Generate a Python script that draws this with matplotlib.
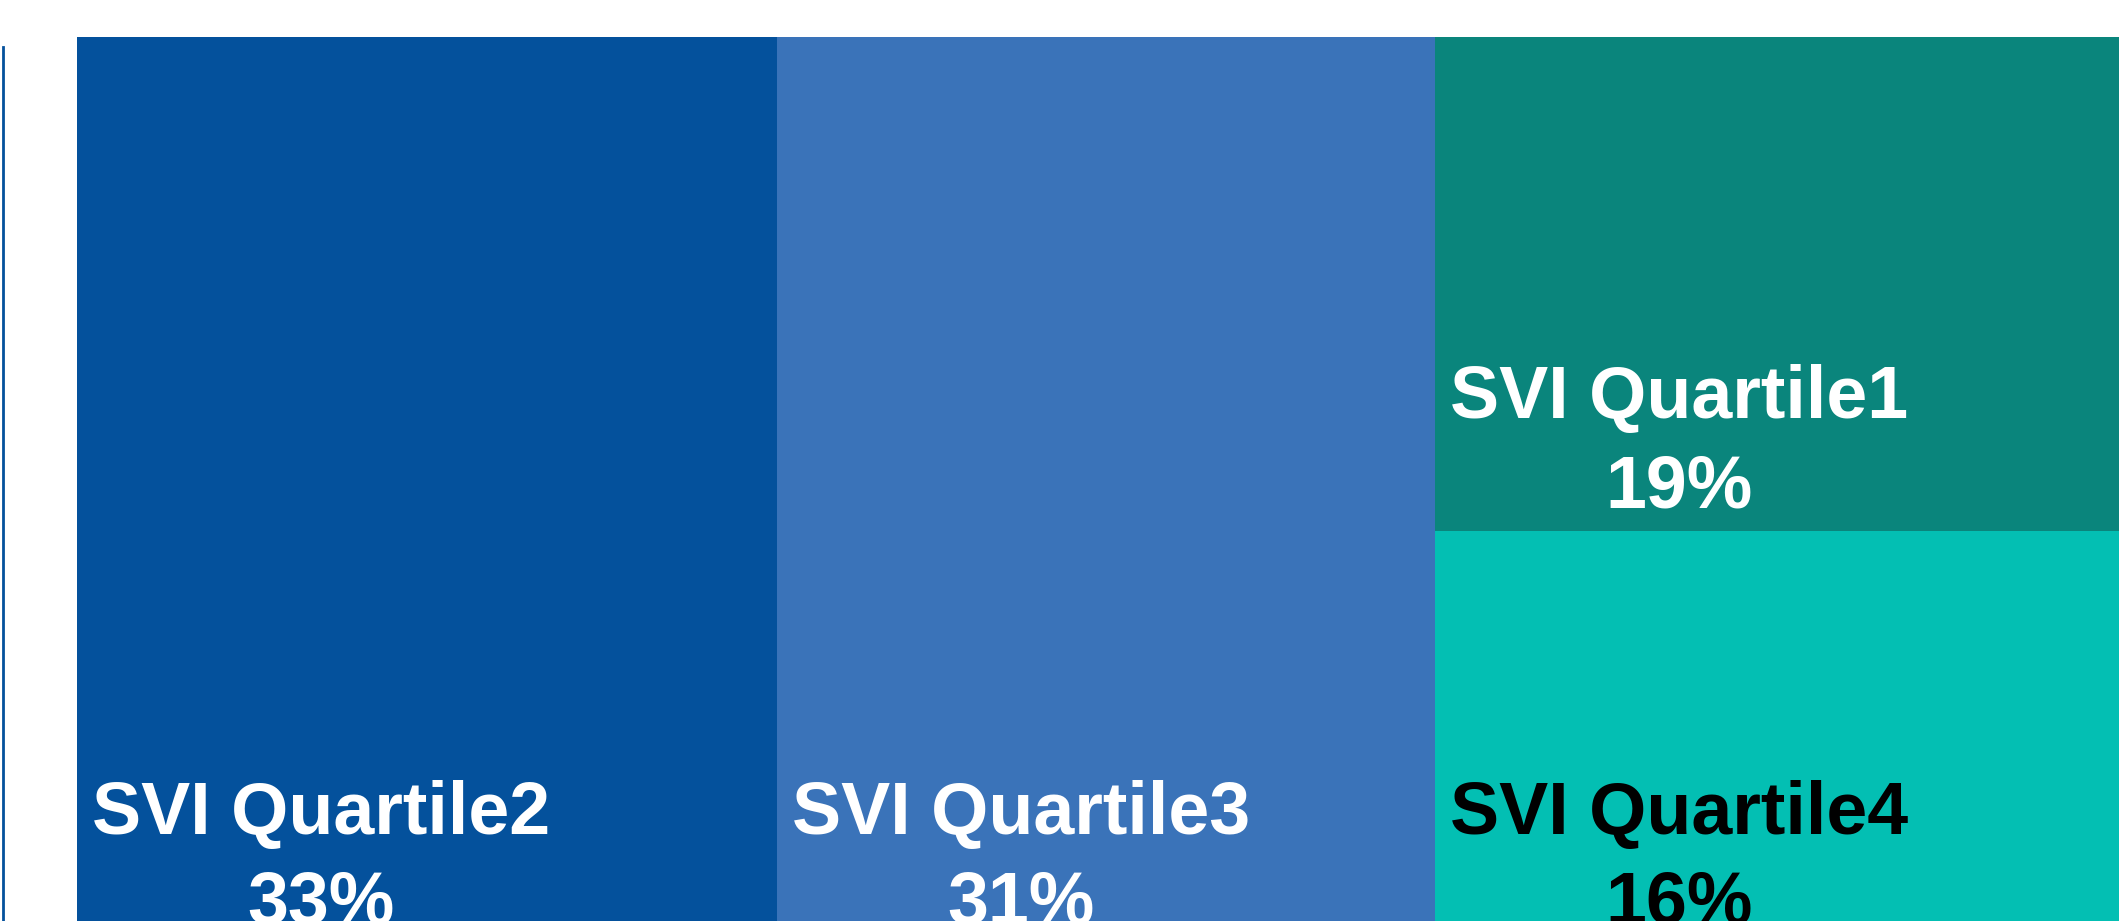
import matplotlib.pyplot as plt
from matplotlib.patches import Rectangle
from matplotlib.lines import Line2D

# treemap data
labels = ['SVI Quartile2', 'SVI Quartile3', 'SVI Quartile1', 'SVI Quartile4']
shares = [33, 31, 19, 16]
colors = ['#04519c', '#3a73b9', '#0a857c', '#03bfb3']
text_colors = ['white', 'white', 'white', 'black']

plt.rcParams['font.family'] = ['Liberation Sans', 'DejaVu Sans']

W, H = 2119, 921
fig = plt.figure(figsize=(W / 100, H / 100), dpi=100)
# the tiles run past the right and bottom edge of the picture
ax = fig.add_axes([77 / W, -26 / H, 2101 / W, 910 / H])
ax.set_xlim(0, sum(shares))
ax.set_ylim(0, 1)
ax.axis('off')

# columns: Q2, Q3, then Q1 stacked on Q4
x0 = 0
tiles = []
tiles.append((x0, 0, shares[0], 1))
x0 += shares[0]
tiles.append((x0, 0, shares[1], 1))
x0 += shares[1]
col = shares[2] + shares[3]
h4 = shares[3] / col
tiles.append((x0, h4, col, 1 - h4))
tiles.append((x0, 0, col, h4))

for (x, y, w, h), lab, v, c, tc in zip(tiles, labels, shares, colors, text_colors):
    ax.add_patch(Rectangle((x, y), w, h, facecolor=c, edgecolor='none'))
    ax.annotate(f'{lab}\n{v}%', xy=(x, y), xytext=(15, 9),
                textcoords='offset pixels', ha='left', va='bottom',
                multialignment='center', fontsize=53, fontweight='bold',
                color=tc, linespacing=1.37)

# thin rule at the far left
fig.add_artist(Line2D([3 / W, 3 / W], [0, (H - 47) / H], color='#04519c', lw=2))

fig.savefig('out.png', dpi=100)
